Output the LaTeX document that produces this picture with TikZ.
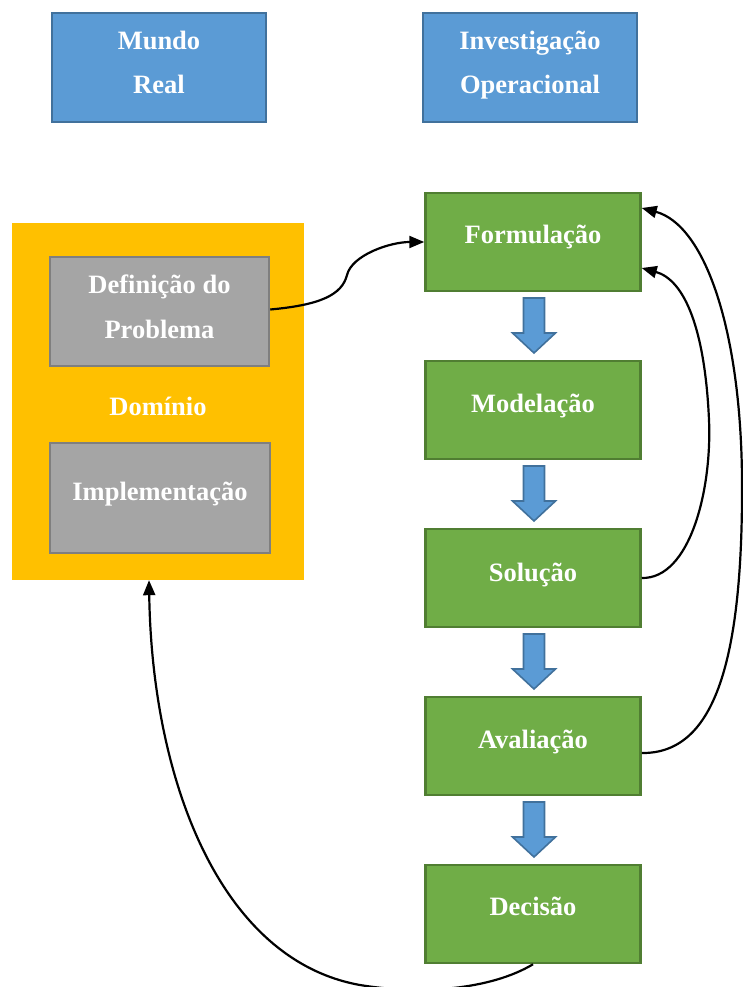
\documentclass[tikz,border=0pt]{standalone}
\usepackage{fontspec}
\setmainfont{Liberation Serif}
\usetikzlibrary{arrows.meta,calc}
\definecolor{boxblue}{HTML}{5B9BD5}
\definecolor{boxblueedge}{HTML}{41719C}
\definecolor{domorange}{HTML}{FFC000}
\definecolor{boxgray}{HTML}{A5A5A5}
\definecolor{boxgrayedge}{HTML}{7F7F7F}
\definecolor{boxgreen}{HTML}{70AD47}
\definecolor{boxgreenedge}{HTML}{507E32}
\tikzset{
  lbl/.style={font=\fontsize{26.5}{45}\selectfont\bfseries, text=white, inner sep=0pt, anchor=base},
  bluebox/.style={draw=boxblueedge, fill=boxblue, line width=2.5pt, minimum width=214pt, minimum height=109pt, inner sep=0pt},
  graybox/.style={draw=boxgrayedge, fill=boxgray, line width=2.5pt, minimum width=219pt, minimum height=109pt, inner sep=0pt},
  greenbox/.style={draw=boxgreenedge, fill=boxgreen, line width=2.5pt, minimum width=215pt, minimum height=98pt, inner sep=0pt},
  domainbox/.style={fill=domorange, minimum width=292pt, minimum height=357pt, inner sep=0pt},
  flow/.style={draw=black, line width=2.2pt, -{Triangle[length=15pt,width=12pt]}},
  blockarrow/.style={draw=boxblueedge, fill=boxblue, line width=1.6pt, line join=miter},
  downarr/.pic={\path[blockarrow] (-10.5,0) -- (10.5,0) -- (10.5,35) -- (21.5,35) -- (0,55) -- (-21.5,35) -- (-10.5,35) -- cycle;}
}
\begin{document}
\begin{tikzpicture}[x=1pt, y=-1pt]
\useasboundingbox (0,0) rectangle (743,987);

% header boxes
\node[bluebox] (mundo) at (159,67.5) {};
\node[lbl] at (159,50) {Mundo};
\node[lbl] at (159,94) {Real};
\node[bluebox] (io) at (530,67.5) {};
\node[lbl] at (530,50) {Investigação};
\node[lbl] at (530,94) {Operacional};

% domain of the real world
\node[domainbox] (dom) at (158,401.5) {};
\node[graybox] (def) at (159.5,311.5) {};
\node[lbl] at (159.5,293) {Definição do};
\node[lbl] at (159.5,338) {Problema};
\node[lbl] at (158,415) {Domínio};
\node[graybox, minimum width=220pt, minimum height=110pt] (impl) at (160,498) {};
\node[lbl] at (160,500) {Implementação};

% operational research stages
\node[greenbox] (form) at (533,242) {};
\node[lbl] at (533,243) {Formulação};
\node[greenbox] (model) at (533,410) {};
\node[lbl] at (533,412) {Modelação};
\node[greenbox] (sol) at (533,578) {};
\node[lbl] at (533,581) {Solução};
\node[greenbox] (aval) at (533,746) {};
\node[lbl] at (533,748) {Avaliação};
\node[greenbox] (dec) at (533,914) {};
\node[lbl] at (533,915) {Decisão};

% block arrows between stages
\foreach \y in {298,466,634,802} \pic at (534,\y) {downarr};

% feedback connectors
\draw[flow] ([yshift=2pt]def.east) .. controls (320,305) and (342,295) .. (347,275)
  .. controls (352,255) and (390,242) .. ([yshift=0pt]form.west);
\draw[flow] (sol.east) .. controls (690,579) and (712,490) .. (709,420)
  .. controls (705,330) and (685,280) .. ([yshift=-26pt]form.east);
\draw[flow] ([yshift=-7pt]aval.east) .. controls (715,754) and (743,660) .. (742,480)
  .. controls (741,330) and (705,225) .. ([yshift=34pt]form.east);
\draw[flow] (dec.south) .. controls (490,990) and (420,995) .. (360,985)
  .. controls (220,960) and (152,780) .. ([xshift=-9pt]dom.south);
\end{tikzpicture}
\end{document}
